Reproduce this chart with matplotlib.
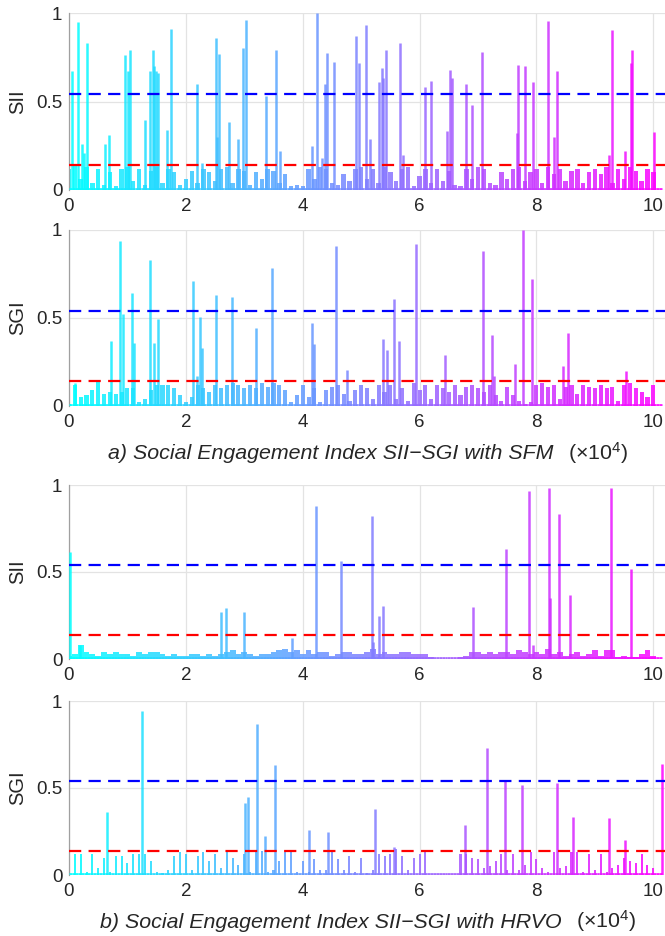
import numpy as np
import matplotlib
matplotlib.use("Agg")
import matplotlib.pyplot as plt
from matplotlib.collections import LineCollection

plt.rcParams['font.family'] = ['Liberation Sans', 'DejaVu Sans']
plt.rcParams['mathtext.fontset'] = 'custom'
plt.rcParams['mathtext.rm'] = 'Liberation Sans'
plt.rcParams['mathtext.it'] = 'Liberation Sans:italic'

# ---------------- data (x in units of 10^4, values 0..1) ----------------
BASE_STEP = 0.1  # baseline samples every 0.1 x 10^4
# baseline noise levels (in percent) for each panel
sfm_sii_base = [12, 14, 6, 13, 4, 12, 3, 10, 2, 12,
                13, 5, 12, 3, 11, 13, 4, 12, 10, 3,
                6, 11, 4, 12, 10, 5, 12, 13, 4, 12,
                11, 3, 10, 6, 12, 11, 4, 9, 2, 3,
                2, 12, 6, 13, 12, 4, 3, 9, 5, 12,
                13, 6, 12, 4, 13, 10, 5, 12, 13, 2,
                8, 12, 4, 12, 5, 11, 3, 2, 12, 6,
                13, 12, 4, 3, 10, 6, 12, 13, 5, 10,
                12, 4, 13, 9, 12, 5, 11, 12, 4, 10,
                12, 9, 13, 4, 12, 6, 13, 11, 5, 12,
                10]
sfm_sgi_base = [1, 12, 5, 6, 9, 14, 7, 8, 7, 8,
                10, 10, 2, 4, 9, 12, 12, 12, 10, 6,
                2, 5, 12, 10, 8, 12, 10, 12, 13, 12,
                10, 12, 10, 13, 11, 13, 12, 9, 2, 6,
                12, 5, 10, 2, 9, 11, 12, 7, 3, 9,
                12, 10, 4, 12, 8, 12, 4, 10, 3, 13,
                9, 12, 4, 12, 10, 8, 12, 6, 11, 12,
                10, 8, 12, 6, 3, 11, 6, 3, 1, 2,
                12, 13, 11, 12, 4, 11, 12, 7, 12, 11,
                10, 12, 10, 11, 3, 12, 13, 10, 8, 5,
                12]
hrvo_sii_base = [2, 3, 8, 4, 3, 2, 4, 3, 4, 3,
                 3, 2, 4, 3, 4, 4, 3, 2, 3, 2,
                 2, 3, 3, 2, 3, 2, 3, 4, 5, 3,
                 4, 3, 2, 3, 3, 4, 5, 6, 4, 5,
                 3, 5, 3, 4, 4, 2, 3, 4, 4, 3,
                 3, 4, 6, 3, 4, 3, 3, 4, 4, 3,
                 3, 3, 1, 0, 0, 0, 0, 1, 2, 4,
                 4, 3, 4, 3, 4, 4, 3, 5, 4, 3,
                 4, 3, 6, 3, 4, 2, 3, 4, 2, 3,
                 5, 2, 5, 5, 1, 2, 1, 1, 3, 5,
                 2]
hrvo_sgi_base = [2, 12, 12, 2, 12, 4, 10, 2, 11, 11,
                 7, 12, 12, 12, 8, 2, 1, 3, 11, 13,
                 12, 3, 11, 13, 8, 12, 4, 13, 10, 6,
                 12, 2, 13, 14, 2, 3, 8, 13, 13, 2,
                 8, 2, 9, 3, 3, 13, 9, 3, 11, 2,
                 10, 1, 3, 12, 11, 12, 15, 11, 3, 10,
                 12, 13, 0, 0, 0, 0, 0, 12, 12, 10,
                 9, 4, 5, 8, 12, 3, 12, 3, 6, 13,
                 9, 4, 2, 13, 4, 5, 13, 13, 2, 12,
                 3, 12, 2, 4, 6, 10, 8, 7, 12, 6,
                 4]

# prominent spikes: positions (x10^4) and heights
sfm_sii_x = [0.05, 0.15, 0.23, 0.26, 0.30, 0.62, 0.69, 0.95, 1.01, 1.05,
             1.30, 1.39, 1.43, 1.46, 1.49, 1.52, 1.67, 1.75, 2.19, 2.28,
             2.51, 2.54, 2.57, 2.73, 2.90, 2.97, 3.03, 3.38, 3.54, 3.61,
             4.16, 4.24, 4.33, 4.38, 4.42, 4.53, 4.91, 4.97, 5.08, 5.15,
             5.31, 5.35, 5.38, 5.42, 5.67, 5.71, 6.10, 6.19, 6.47, 6.52,
             6.55, 6.80, 6.90, 7.07, 7.66, 7.68, 7.81, 7.94, 8.20, 8.30,
             8.35, 9.25, 9.30, 9.52, 9.62, 9.64, 10.02]
sfm_sii_y = [0.67, 0.95, 0.26, 0.21, 0.83, 0.26, 0.31, 0.76, 0.67, 0.79,
             0.395, 0.67, 0.79, 0.70, 0.67, 0.66, 0.34, 0.91, 0.60, 0.15,
             0.86, 0.30, 0.77, 0.385, 0.29, 0.80, 0.96, 0.53, 0.79, 0.22,
             0.25, 1.00, 0.18, 0.60, 0.775, 0.725, 0.87, 0.715, 0.93, 0.29,
             0.61, 0.69, 0.63, 0.79, 0.83, 0.20, 0.58, 0.615, 0.335, 0.68,
             0.63, 0.60, 0.48, 0.78, 0.32, 0.705, 0.70, 0.61, 0.955, 0.30,
             0.67, 0.20, 0.905, 0.22, 0.72, 0.79, 0.325]

sfm_sgi_x = [0.10, 0.72, 0.88, 0.92, 1.08, 1.12, 1.38, 1.46, 1.52, 2.13,
             2.19, 2.24, 2.28, 2.51, 2.79, 3.20, 3.47, 4.16, 4.20, 4.57,
             4.76, 5.37, 5.45, 5.57, 5.65, 5.94, 6.44, 7.08, 7.24, 7.28,
             7.64, 7.77, 7.93, 8.46, 8.54, 9.54]
sfm_sgi_y = [0.13, 0.37, 0.94, 0.52, 0.64, 0.36, 0.83, 0.36, 0.495, 0.71,
             0.17, 0.505, 0.33, 0.63, 0.62, 0.445, 0.785, 0.47, 0.35, 0.91,
             0.205, 0.38, 0.32, 0.61, 0.37, 0.92, 0.29, 0.88, 0.405, 0.17,
             0.24, 1.00, 0.72, 0.23, 0.415, 0.20]

hrvo_sii_x = [0.02, 0.18, 2.60, 2.69, 3.00, 3.81, 4.22, 4.66, 5.19, 5.20,
              5.31, 5.38, 6.91, 7.48, 7.88, 7.94, 8.21, 8.24, 8.38, 8.57,
              9.28, 9.61]
hrvo_sii_y = [0.615, 0.08, 0.27, 0.295, 0.27, 0.12, 0.88, 0.565, 0.82, 0.10,
              0.25, 0.305, 0.30, 0.635, 0.965, 0.08, 0.98, 0.35, 0.835, 0.37,
              0.985, 0.52]

hrvo_sgi_x = [0.645, 1.245, 3.01, 3.07, 3.22, 3.36, 3.53, 4.11, 4.44, 5.23,
              5.57, 6.77, 7.16, 7.47, 7.75, 8.36, 8.63, 9.25, 9.51, 10.15]
hrvo_sgi_y = [0.36, 0.94, 0.415, 0.45, 0.87, 0.225, 0.63, 0.26, 0.25, 0.38,
              0.16, 0.29, 0.73, 0.54, 0.52, 0.53, 0.335, 0.33, 0.20, 0.64]

upper_threshold = 0.54
lower_threshold = 0.14

ylabels = ['SII', 'SGI', 'SII', 'SGI']
captions = ['a) Social Engagement Index SII\u2212SGI with SFM',
            'b) Social Engagement Index SII\u2212SGI with HRVO']
scale_label = '(\u00d710$^{4}$)'
xticks = [0, 2, 4, 6, 8, 10]
yticks = [0, 0.5, 1]
yticklabels = ['0', '0.5', '1']

# ---------------- figure ----------------
W, H = 665, 936
fig = plt.figure(figsize=(W / 100, H / 100), dpi=100)
cmap = plt.cm.cool
XMAX = 10.2


def colors_for(x):
    return cmap(np.clip(np.asarray(x, dtype=float) / 10.15, 0, 1))


# (top px, zero px, baseline data, spike x, spike y, bar width)
panels = [
    (13, 190, sfm_sii_base, sfm_sii_x, sfm_sii_y, 0.075),
    (230, 406, sfm_sgi_base, sfm_sgi_x, sfm_sgi_y, 0.07),
    (485, 659, hrvo_sii_base, hrvo_sii_x, hrvo_sii_y, 0.1),
    (701, 875, hrvo_sgi_base, hrvo_sgi_x, hrvo_sgi_y, 0.035),
]

left_px = 69
for i, (top, zero, base, sx, sy, bw) in enumerate(panels):
    ax = fig.add_axes([left_px / W, 1 - zero / H, (W - left_px) / W, (zero - top) / H])
    ax.set_xlim(0, XMAX)
    ax.set_ylim(0, 1)

    xb = np.arange(len(base)) * BASE_STEP
    hb = np.asarray(base, dtype=float) / 100.0
    ax.bar(xb, hb, width=bw, color=colors_for(xb), alpha=0.85, linewidth=0, zorder=2)

    sx = np.asarray(sx, dtype=float)
    ax.vlines(sx, 0, sy, colors=colors_for(sx), linewidth=1.8, alpha=0.85, zorder=3)

    # coloured zero line
    xs = np.linspace(0, XMAX - 0.05, 200)
    segs = [[(xs[k], 0.004), (xs[k + 1], 0.004)] for k in range(len(xs) - 1)]
    lc = LineCollection(segs, colors=colors_for(xs[:-1]), linewidths=2.0, alpha=0.9, zorder=3)
    ax.add_collection(lc)

    ax.axhline(upper_threshold, color='#0000ff', lw=1.6, dashes=(5.5, 3.3), zorder=4)
    ax.axhline(lower_threshold, color='#ff0000', lw=1.6, dashes=(5.5, 3.3), zorder=4)

    ax.set_xticks(xticks)
    ax.set_xticklabels([str(t) for t in xticks])
    ax.set_yticks(yticks)
    ax.set_yticklabels(yticklabels)
    ax.tick_params(length=0, labelsize=13.5, colors='#262626')
    ax.tick_params(axis='x', pad=6.0)
    ax.tick_params(axis='y', pad=4.8)
    ax.grid(True, color='#e3e3e3', lw=0.9)
    ax.set_axisbelow(True)
    for s in ['top', 'right', 'bottom']:
        ax.spines[s].set_visible(False)
    ax.spines['left'].set_color('#a0a0a0')
    ax.spines['left'].set_linewidth(0.9)
    ax.set_ylabel(ylabels[i], fontsize=14.5, color='#262626')
    ax.yaxis.set_label_coords((27 - left_px) / (W - left_px), 0.5)

# captions
cap_baselines = [459.3, 928]
fig.canvas.draw()
renderer = fig.canvas.get_renderer()
center_px = 368
gap_px = 15
for cap, yb in zip(captions, cap_baselines):
    t1 = fig.text(0, 1 - yb / H, cap, fontsize=15.4, style='italic', color='#262626',
                  ha='left', va='baseline')
    t2 = fig.text(0, 1 - yb / H, scale_label, fontsize=15.4, color='#262626',
                  ha='left', va='baseline')
    w1 = t1.get_window_extent(renderer).width
    w2 = t2.get_window_extent(renderer).width
    total = w1 + gap_px + w2
    x0 = center_px - total / 2
    t1.set_x(x0 / W)
    t2.set_x((x0 + w1 + gap_px) / W)

fig.savefig('out.png', dpi=100)
